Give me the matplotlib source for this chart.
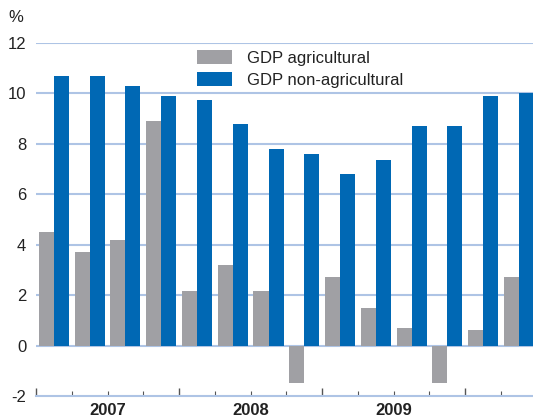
import matplotlib
matplotlib.use("Agg")
import matplotlib.pyplot as plt
from matplotlib.ticker import MultipleLocator, FixedLocator

plt.rcParams['font.family'] = ['Liberation Sans', 'DejaVu Sans']
plt.rcParams['axes.unicode_minus'] = False

quarters = ['2007Q1', '2007Q2', '2007Q3', '2007Q4',
            '2008Q1', '2008Q2', '2008Q3', '2008Q4',
            '2009Q1', '2009Q2', '2009Q3', '2009Q4',
            '2010Q1', '2010Q2']
gdp_agri = [4.5, 3.7, 4.2, 8.9, 2.15, 3.2, 2.15, -1.5, 2.7, 1.5, 0.7, -1.5, 0.6, 2.7]
gdp_nonagri = [10.7, 10.7, 10.3, 9.9, 9.75, 8.8, 7.8, 7.6, 6.8, 7.35, 8.7, 8.7, 9.9, 10.0]
years = ['2007', '2008', '2009']
yticks = [-2, 0, 2, 4, 6, 8, 10, 12]

W, H = 533, 417
fig = plt.figure(figsize=(W / 100, H / 100), dpi=100)
left_px, right_px = 36, 536.8
top_px, bot_px = 43, 396
ax = fig.add_axes([left_px / W, 1 - bot_px / H, (right_px - left_px) / W, (bot_px - top_px) / H])

gray = '#a0a0a4'
blue = '#0068b4'
grid_c = '#aec4e5'

n = len(quarters)
xs = [i + 0.5 for i in range(n)]
bw = 0.42
b1 = ax.bar([x - bw / 2 for x in xs], gdp_agri, width=bw, color=gray, label='GDP agricultural', zorder=3)
b2 = ax.bar([x + bw / 2 for x in xs], gdp_nonagri, width=bw, color=blue, label='GDP non-agricultural', zorder=3)

ax.set_xlim(0, n)
ax.set_ylim(-2, 12)
ax.set_yticks(yticks)
ax.set_yticklabels([str(t) for t in yticks])
for t in yticks:
    if t > -2:
        ax.axhline(t, color=grid_c, lw=1.5, zorder=1)

for s in ['left', 'right', 'top']:
    ax.spines[s].set_visible(False)
ax.spines['bottom'].set_color(grid_c)
ax.spines['bottom'].set_linewidth(1.5)

ax.tick_params(axis='y', length=0, pad=7, labelsize=12, colors='#222222')
ax.xaxis.set_major_locator(FixedLocator([0, 4, 8, 12]))
ax.xaxis.set_minor_locator(FixedLocator([i for i in range(n + 1) if i % 4 != 0]))
ax.tick_params(axis='x', which='major', direction='in', length=6, width=1, color='#555555', labelbottom=False)
ax.tick_params(axis='x', which='minor', direction='in', length=3.5, width=0.8, color='#555555', labelbottom=False)

for k, y in enumerate(years):
    ax.text(4 * k + 2, -0.02, y, transform=ax.get_xaxis_transform(), ha='center', va='top',
            fontsize=12, fontweight='bold', color='#222222')

fig.text(8 / W, 1 - 18 / H, '%', fontsize=12, va='center', ha='left', color='#222222')

leg = fig.legend(handles=[b1, b2], loc='upper left', bbox_to_anchor=(194 / W, 1 - 47 / H),
                 frameon=False, fontsize=12, handlelength=2.1, handleheight=0.9,
                 handletextpad=0.9, labelspacing=0.35, borderpad=0.2, borderaxespad=0)
for t in leg.get_texts():
    t.set_color('#222222')

fig.savefig('out.png', dpi=100)
